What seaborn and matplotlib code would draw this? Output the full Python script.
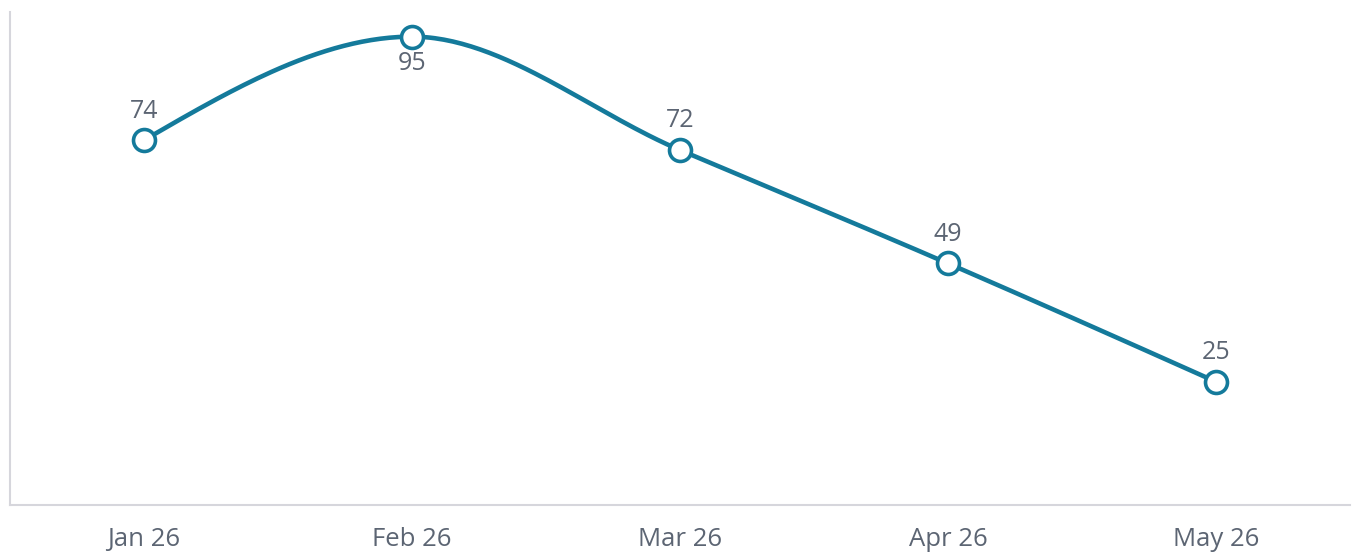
import numpy as np
import pandas as pd
import matplotlib.pyplot as plt
import seaborn as sns

# chart data
months = ['Jan 26', 'Feb 26', 'Mar 26', 'Apr 26', 'May 26']
values = [74, 95, 72, 49, 25]
label_below = [False, True, False, False, False]

LINE = '#147a9b'
TEXT = '#5c6573'
AXIS = '#d6d6dc'

sns.set_style('white')
plt.rcParams['font.family'] = ['Open Sans', 'DejaVu Sans']


def monotone_x(x, y, n=60):
    # d3 curveMonotoneX style smoothing between the points
    x = np.asarray(x, float)
    y = np.asarray(y, float)
    h = np.diff(x)
    s = np.diff(y) / h
    t = np.zeros_like(y)
    for i in range(1, len(y) - 1):
        p = (s[i - 1] * h[i] + s[i] * h[i - 1]) / (h[i - 1] + h[i])
        t[i] = (np.sign(s[i - 1]) + np.sign(s[i])) * min(abs(s[i - 1]), abs(s[i]), 0.5 * abs(p))
    t[0] = (3 * s[0] - t[1]) / 2
    t[-1] = (3 * s[-1] - t[-2]) / 2
    xs, ys = [], []
    for i in range(len(h)):
        u = np.linspace(0, 1, n)
        p0 = np.array([x[i], y[i]])
        p1 = np.array([x[i] + h[i] / 3, y[i] + h[i] * t[i] / 3])
        p2 = np.array([x[i + 1] - h[i] / 3, y[i + 1] - h[i] * t[i + 1] / 3])
        p3 = np.array([x[i + 1], y[i + 1]])
        b = ((1 - u) ** 3)[:, None] * p0 + (3 * (1 - u) ** 2 * u)[:, None] * p1 \
            + (3 * (1 - u) * u ** 2)[:, None] * p2 + (u ** 3)[:, None] * p3
        xs.extend(b[:, 0])
        ys.extend(b[:, 1])
    return np.array(xs), np.array(ys)


pos = np.arange(len(months))
cx, cy = monotone_x(pos, values)
curve = pd.DataFrame({'x': cx, 'y': cy})
pts = pd.DataFrame({'x': pos, 'y': values})

fig = plt.figure(figsize=(13.56, 5.54), dpi=100)
ax = fig.add_axes([10 / 1356, 49 / 554, 1340 / 1356, 493 / 554])

sns.lineplot(data=curve, x='x', y='y', ax=ax, color=LINE, linewidth=3.3, sort=False,
             estimator=None, zorder=2)
sns.scatterplot(data=pts, x='x', y='y', ax=ax, s=250, color='white', edgecolor=LINE,
                linewidth=2.6, zorder=3)

for xi, v, below in zip(pos, values, label_below):
    off = -19 if below else 21
    ax.annotate(str(v), (xi, v), xytext=(0, off), textcoords='offset points',
                ha='center', va='center', fontsize=18, color=TEXT)

ax.set_xlim(-0.5, len(months) - 0.5)
ax.set_ylim(0, 100)
ax.set_xticks(pos)
ax.set_xticklabels(months, fontsize=18.5, color=TEXT)
ax.tick_params(axis='x', length=0, pad=16)
ax.set_yticks([])
ax.set_xlabel('')
ax.set_ylabel('')
for side in ['top', 'right']:
    ax.spines[side].set_visible(False)
for side in ['left', 'bottom']:
    ax.spines[side].set_color(AXIS)
    ax.spines[side].set_linewidth(1.5)

plt.savefig('out.png', dpi=100)
